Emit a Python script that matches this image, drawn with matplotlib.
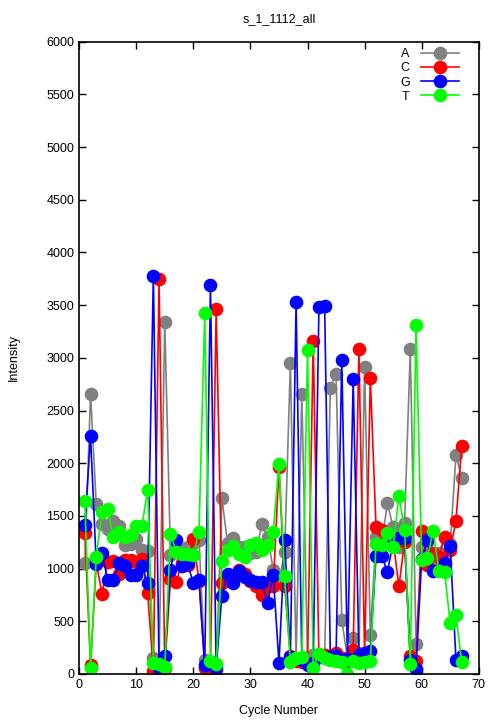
import matplotlib
matplotlib.use("Agg")
import matplotlib.pyplot as plt
import numpy as np

# intensities per cycle
cycles = np.arange(1, 68)

a_vals = [1050, 2660, 1610, 1420, 1380, 1450, 1400, 1220, 1230, 1280, 1180, 1170,
          150, 90, 3340, 1130, 1200, 1170, 1200, 1240, 1270,
          130, 100, 30, 1670, 1240, 1290, 1200, 1200, 1150, 1160, 1420, 1300, 990,
          870, 1160, 2950, 130, 2660, 150, 180, 190, 150, 2710, 2850, 510, 150, 340, 200, 2910, 370,
          1300, 1250, 1620, 1390, 1200, 1430, 3080, 280, 1200, 1250, 1100, 1150, 1290, 1230, 2080, 1860]

c_vals = [1340, 80, 1060, 760, 1060, 1070, 950, 1080, 1080, 1060, 1090, 770,
          30, 3750, 60, 900, 870, 1050, 1030, 1280, 880,
          60, 70, 3460, 860, 890, 900, 990, 950, 880, 830, 750, 830, 830,
          1960, 830, 170, 120, 110, 100, 3160, 160, 180, 150, 200, 150, 120, 230, 3080, 180, 2810,
          1390, 1370, 1290, 1270, 830, 1250, 170, 120, 1360, 1030, 1150, 1110, 1300, 1180, 1450, 2160]

g_vals = [1410, 2260, 1040, 1150, 890, 890, 1050, 1020, 940, 940, 1020, 860,
          3780, 60, 170, 990, 1270, 1020, 1050, 860, 890,
          80, 3690, 60, 740, 950, 860, 980, 920, 890, 870, 870, 670, 940,
          100, 1270, 160, 3530, 130, 80, 100, 3480, 3490, 160, 170, 2980, 140, 2800, 180, 200, 220,
          1120, 1120, 970, 1250, 1290, 1290, 130, 50, 1090, 1270, 980, 990, 1050, 1210, 130, 170]

t_vals = [1640, 60, 1110, 1540, 1570, 1300, 1350, 1300, 1320, 1400, 1400, 1750,
          100, 90, 70, 1330, 1160, 1140, 1140, 1130, 1350,
          3430, 120, 90, 1070, 1180, 1210, 1140, 1110, 1220, 1240, 1180, 1220, 1350,
          1990, 930, 110, 150, 160, 3070, 60, 190, 150, 130, 120, 110, 0, 120, 100, 110, 120,
          1230, 1220, 1340, 1200, 1690, 1370, 90, 3310, 1080, 1100, 1360, 980, 970, 480, 560, 110]

labels = ["A", "C", "G", "T"]
colors = ["#808080", "#ff0000", "#0000ff", "#00ff00"]

plt.rcParams['font.family'] = ['Liberation Sans', 'DejaVu Sans']
plt.rcParams['font.size'] = 9

fig = plt.figure(figsize=(5.04, 7.2), dpi=100)
ax = fig.add_axes([0.157, 0.064, 0.793, 0.878])

for vals, lab, col in zip([a_vals, c_vals, g_vals, t_vals], labels, colors):
    ax.plot(cycles, vals, color=col, lw=1.2, marker='o', ms=8.8,
            mec=col, mfc=col, label=lab)

ax.set_xlim(0, 70)
ax.set_ylim(0, 6000)
ax.set_xticks(range(0, 71, 10))
ax.set_yticks(range(0, 6001, 500))
ax.tick_params(direction='in', top=True, right=True, length=5, width=1)
for s in ax.spines.values():
    s.set_linewidth(1.2)

ax.set_title("s_1_1112_all", fontsize=9, pad=14)
ax.set_xlabel("Cycle Number", labelpad=10)
ax.set_ylabel("Intensity")
ax.yaxis.set_label_coords(-0.148, 0.5)

ax.legend(loc='upper right', frameon=False, markerfirst=False,
          handlelength=3.0, handletextpad=0.9, labelspacing=0.18,
          borderaxespad=0.0, borderpad=0.5, fontsize=9,
          bbox_to_anchor=(0.965, 1.0))

fig.savefig("out.png", dpi=100)
